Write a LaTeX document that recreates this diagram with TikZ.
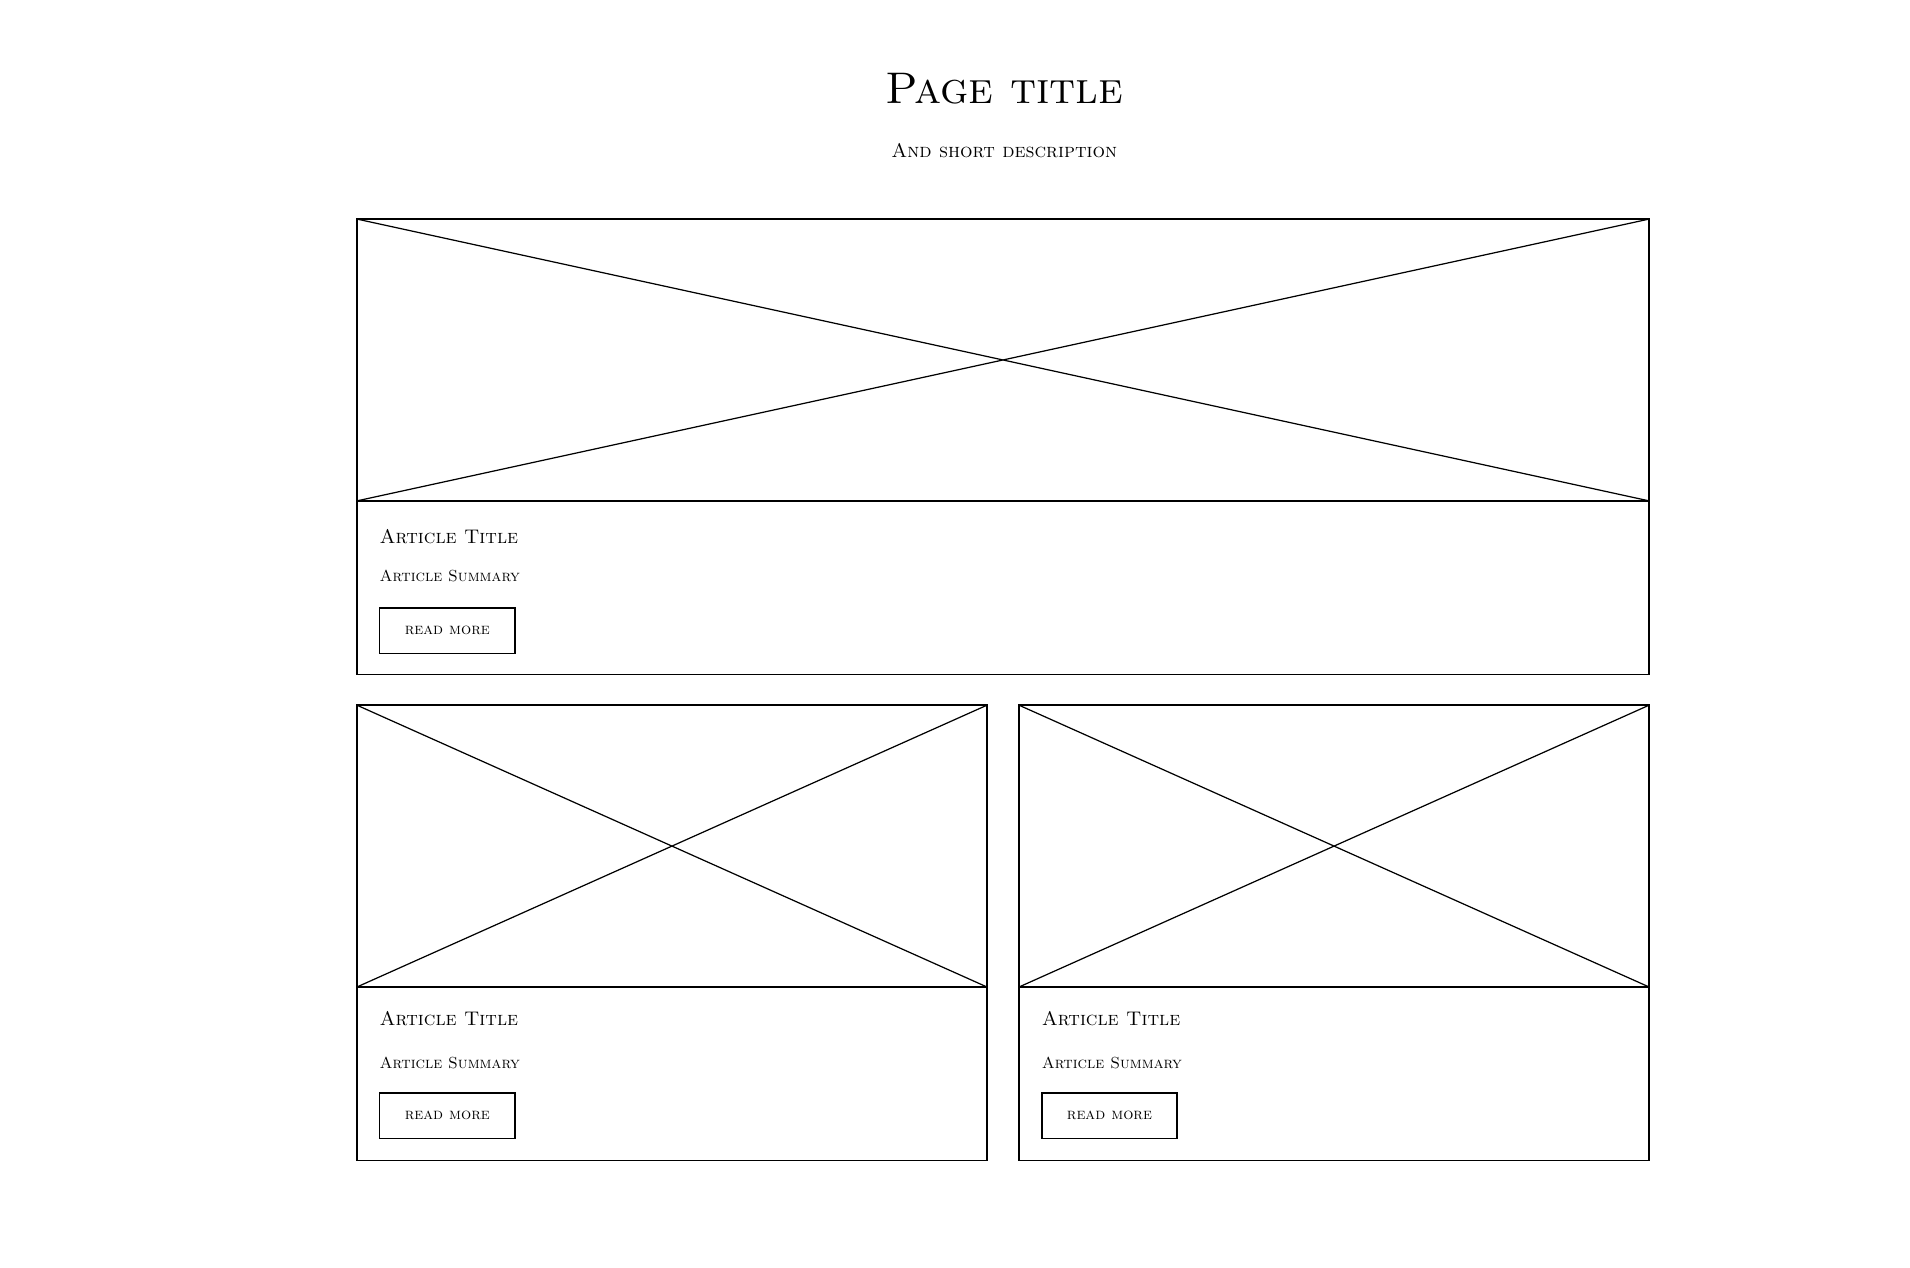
\documentclass[tikz,border=0pt]{standalone}
\begin{document}
\begin{tikzpicture}[x=1pt,y=-1pt,
  box/.style={draw,line width=1.2pt},
  cross/.style={draw,line width=1pt},
  ttl/.style={anchor=west,font=\fontsize{16}{18}\selectfont\scshape},
  sum/.style={anchor=west,font=\fontsize{13}{15}\selectfont\scshape},
  btn/.style={draw,line width=1.2pt,minimum width=110pt,minimum height=37pt,font=\fontsize{13}{15}\selectfont\scshape}]
\useasboundingbox (0,0) rectangle (1552,1030);
\node[font=\fontsize{36}{40}\selectfont\scshape] (pt) at (816,72) {Page title};
\node[font=\fontsize{16}{18}\selectfont\scshape] (sd) at (816,122) {And short description};
% big card
\draw[box] (290,178) rectangle (1340,548);
\draw[box] (290,178) rectangle (1340,407);
\draw[cross] (290,178) -- (1340,407) (290,407) -- (1340,178);
\node[ttl] (t1) at (305,436) {Article Title};
\node[sum] (s1) at (305,468) {Article Summary};
\node[btn] (b1) at (363.5,512.5) {read more};
% small cards
\foreach \x/\n in {290/2,828/3}{
  \draw[box] (\x,573) rectangle (\x+512,943);
  \draw[box] (\x,573) rectangle (\x+512,802);
  \draw[cross] (\x,573) -- (\x+512,802) (\x,802) -- (\x+512,573);
  \node[ttl] (t\n) at (\x+15,828) {Article Title};
  \node[sum] (s\n) at (\x+15,864) {Article Summary};
  \node[btn] (b\n) at (\x+73.5,906.5) {read more};
}
\end{tikzpicture}
\end{document}
